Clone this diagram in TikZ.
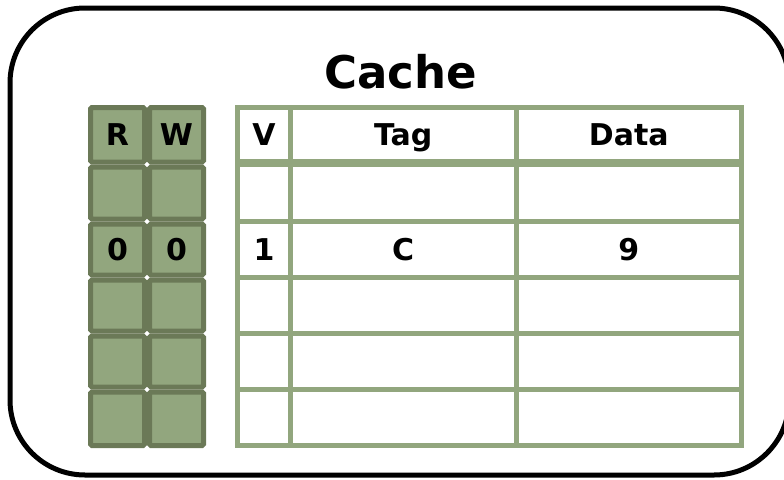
\documentclass[tikz,border=0pt]{standalone}
\usepackage{fontspec}
\setmainfont{DejaVu Sans}
\definecolor{olivefill}{RGB}{146,166,126}
\definecolor{olivedark}{RGB}{107,121,87}
\begin{document}
\begin{tikzpicture}[x=1pt,y=-1pt,
  cellfont/.style={font=\fontsize{30}{36}\selectfont\bfseries, text height=22pt, text depth=0pt},
  rwcell/.style={cellfont, draw=olivedark, fill=olivefill, line width=5pt, rounded corners=1.5pt, minimum width=54pt, inner sep=0pt},
  tcell/.style={cellfont, draw=olivefill, line width=5pt, inner sep=0pt},
  vcol/.style={tcell, minimum width=53pt},
  tagcol/.style={tcell, minimum width=225.5pt},
  datacol/.style={tcell, minimum width=225.5pt},
  frame/.style={draw=black, line width=5pt, rounded corners=75pt, inner sep=0pt}]
\useasboundingbox (0,0) rectangle (784,479);
\clip (0,0) rectangle (784,479);
\fill[white] (0,0) rectangle (784,479);
% outer frame
\node[frame, minimum width=779pt, minimum height=467pt] (frame) at (399.5,241.5) {};
% title
\node[font=\fontsize{45}{54}\selectfont\bfseries, anchor=base, inner sep=0pt] (title) at (400.5,88) {Cache};
% R / W columns
\node[rwcell, minimum height=54.5pt] (r0) at (117.5,134.75) {R};
\node[rwcell, minimum height=54.5pt] (w0) at (176.5,134.75) {W};
\node[rwcell, minimum height=52pt] (r1) at (117.5,193) {};
\node[rwcell, minimum height=52pt] (w1) at (176.5,193) {};
\node[rwcell, minimum height=51pt] (r2) at (117.5,249.5) {0};
\node[rwcell, minimum height=51pt] (w2) at (176.5,249.5) {0};
\node[rwcell, minimum height=51pt] (r3) at (117.5,305.5) {};
\node[rwcell, minimum height=51pt] (w3) at (176.5,305.5) {};
\node[rwcell, minimum height=51pt] (r4) at (117.5,361.5) {};
\node[rwcell, minimum height=51pt] (w4) at (176.5,361.5) {};
\node[rwcell, minimum height=53.5pt] (r5) at (117.5,418.75) {};
\node[rwcell, minimum height=53.5pt] (w5) at (176.5,418.75) {};
% cache table header
\node[vcol, minimum height=54pt] (v0) at (264,134.5) {V};
\node[tagcol, minimum height=54pt] (t0) at (403.25,134.5) {Tag};
\node[datacol, minimum height=54pt] (d0) at (628.75,134.5) {Data};
% cache table body
\node[vcol, minimum height=57pt] (v1) at (264,193) {};
\node[tagcol, minimum height=57pt] (t1) at (403.25,193) {};
\node[datacol, minimum height=57pt] (d1) at (628.75,193) {};
\node[vcol, minimum height=56pt] (v2) at (264,249.5) {1};
\node[tagcol, minimum height=56pt] (t2) at (403.25,249.5) {C};
\node[datacol, minimum height=56pt] (d2) at (628.75,249.5) {9};
\node[vcol, minimum height=56pt] (v3) at (264,305.5) {};
\node[tagcol, minimum height=56pt] (t3) at (403.25,305.5) {};
\node[datacol, minimum height=56pt] (d3) at (628.75,305.5) {};
\node[vcol, minimum height=56pt] (v4) at (264,361.5) {};
\node[tagcol, minimum height=56pt] (t4) at (403.25,361.5) {};
\node[datacol, minimum height=56pt] (d4) at (628.75,361.5) {};
\node[vcol, minimum height=56pt] (v5) at (264,417.5) {};
\node[tagcol, minimum height=56pt] (t5) at (403.25,417.5) {};
\node[datacol, minimum height=56pt] (d5) at (628.75,417.5) {};
\end{tikzpicture}
\end{document}
